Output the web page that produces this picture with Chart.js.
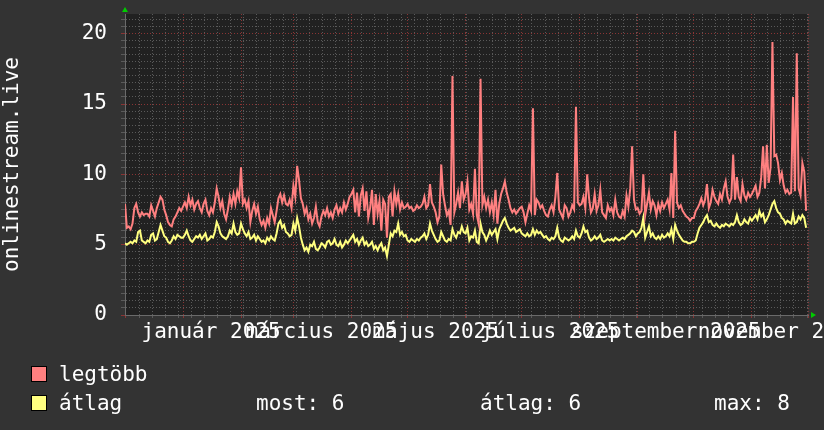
<!DOCTYPE html>
<html><head><meta charset="utf-8">
<script src="https://cdn.jsdelivr.net/npm/chart.js@4/dist/chart.umd.min.js"></script>
<style>
html,body{margin:0;padding:0;background:#333333;}
#wrap{position:relative;width:824px;height:430px;overflow:hidden;background:#333333;}
canvas{position:absolute;left:0;top:0;}
.lg{position:absolute;font-family:"DejaVu Sans Mono";font-size:21px;line-height:21px;color:#fff;white-space:pre;}
.sw{position:absolute;width:14px;height:14px;border:1px solid #000;}
</style></head><body>
<div id="wrap"><canvas id="c" width="824" height="430"></canvas>
<div class="sw" id="sw1" style="left:31px;top:366px;"></div>
<div class="lg" id="lg1" style="left:59px;top:364px;"></div>
<div class="sw" id="sw2" style="left:31px;top:395px;"></div>
<div class="lg" id="lg2" style="left:59px;top:393px;"></div>
<div class="lg" id="st1" style="left:256px;top:393px;"></div>
<div class="lg" id="st2" style="left:480px;top:393px;"></div>
<div class="lg" id="st3" style="left:714px;top:393px;"></div>
</div>
<script>
// ---- data (daily, 1 Dec 2024 .. 30 Nov 2025) ----
const seriesNames = ["legtöbb", "átlag"];
const seriesColors = ["#ff8080", "#ffff80"];
const maxVals = [
 7.9,6.2,6.3,6.1,6.5,7.6,7.9,7.3,7.0,7.3,7.1,7.2,7.2,7.0,7.8,7.4,7.0,7.6,8.0,8.4,8.2,7.5,7.1,6.6,6.4,6.3,6.8,7.0,7.3,7.6,7.4,
 7.7,8.0,7.6,8.4,7.8,8.2,7.5,7.9,8.1,7.6,7.3,7.9,8.2,7.4,7.1,7.6,7.3,8.0,9.0,8.4,7.6,8.1,7.2,6.8,7.5,8.4,7.8,8.6,7.9,8.8,8.3,
 10.5,7.9,8.2,7.6,8.1,6.6,7.4,7.9,7.2,7.7,6.8,6.4,6.7,6.2,6.9,6.5,7.6,7.1,6.6,7.4,8.3,8.6,8.0,8.5,7.9,7.8,8.2,7.6,
 9.2,8.4,10.6,9.6,8.3,7.9,7.2,7.6,6.8,7.2,6.5,6.9,7.7,6.6,6.3,7.0,7.4,7.1,7.6,7.0,7.3,6.9,7.5,7.8,7.2,7.6,7.3,8.0,7.5,7.9,8.4,
 8.6,8.9,7.3,8.7,7.0,8.5,9.0,7.4,8.8,6.9,7.6,8.9,6.4,8.6,7.2,8.1,6.0,8.2,7.9,5.5,8.4,8.6,7.0,8.8,7.9,8.6,7.5,8.0,7.6,7.7,
 7.9,7.6,7.7,7.4,7.5,7.8,7.6,7.7,7.9,8.4,7.6,7.8,9.3,8.0,7.7,7.3,6.6,7.0,10.7,8.6,7.8,7.1,7.4,6.4,17.0,7.3,7.9,8.7,7.6,9.5,8.2,
 8.6,9.5,7.5,7.9,7.2,10.4,7.1,6.5,16.8,7.8,8.4,7.6,8.2,7.3,8.0,7.1,8.9,6.5,7.9,8.6,9.0,9.5,8.7,8.2,7.6,7.3,7.5,7.2,7.4,7.6,
 7.7,7.3,6.6,7.2,7.8,7.4,14.7,7.1,8.2,8.0,7.6,7.8,7.4,7.1,7.0,7.5,7.8,7.3,8.4,10.1,7.5,7.2,6.9,7.8,7.6,7.0,7.3,7.8,7.5,14.8,8.0,
 7.8,7.9,8.4,7.6,10.0,8.3,7.3,7.6,8.6,7.4,7.8,8.9,7.3,7.1,6.9,7.8,7.4,7.6,7.1,8.2,7.3,7.0,6.9,7.4,7.0,8.5,7.7,9.0,12.0,8.2,7.5,
 7.6,7.2,7.4,10.0,7.1,7.9,8.7,7.5,8.1,7.8,7.1,7.9,7.4,8.0,7.6,7.9,8.2,7.5,10.1,6.9,13.1,8.0,7.6,7.8,7.4,7.2,7.0,6.9,6.7,6.9,
 6.9,7.4,7.6,7.9,8.3,7.8,8.2,9.3,7.6,8.0,8.9,8.4,8.1,7.9,8.6,8.2,9.0,9.5,8.4,8.0,8.3,11.4,8.2,9.8,8.4,8.1,9.3,8.5,8.2,8.7,8.4,
 8.6,8.9,9.2,8.4,8.7,9.8,12.0,9.0,12.1,9.4,10.5,19.4,11.3,11.4,10.8,9.6,10.1,9.2,8.7,8.9,8.6,8.7,15.5,8.8,18.6,9.0,8.5,10.8,10.2,7.4
];
const avgVals = [
 5.1,5.0,5.1,5.2,5.1,5.3,5.2,5.9,6.0,5.3,5.2,5.1,5.3,5.2,5.7,5.8,5.3,5.4,5.9,6.4,6.0,5.6,5.5,5.2,5.1,5.3,5.6,5.4,5.7,5.6,5.5,
 5.5,5.7,6.0,5.6,5.3,5.2,5.4,5.6,5.5,5.7,5.4,5.6,5.8,5.3,5.4,5.6,5.5,5.9,6.6,6.3,5.8,5.6,5.5,5.4,5.6,6.0,5.8,6.5,5.9,5.7,5.8,
 6.5,6.1,5.8,5.6,5.9,5.4,5.5,5.7,5.3,5.6,5.4,5.2,5.3,5.1,5.5,5.3,5.6,5.4,5.3,5.8,6.5,6.7,6.2,6.4,5.9,5.8,5.6,5.7,
 6.5,6.0,6.9,6.3,5.5,5.0,4.6,4.8,4.5,5.0,4.9,5.2,4.7,4.6,4.8,5.1,5.0,4.8,5.2,5.3,5.0,5.1,5.4,5.0,4.9,5.2,4.8,5.0,5.3,5.1,5.3,
 5.5,5.7,5.2,5.4,5.0,5.3,5.5,5.0,5.2,4.9,5.0,5.2,4.7,4.9,4.6,4.9,5.1,4.6,4.8,4.2,5.0,5.8,5.6,6.0,5.9,6.5,5.7,5.9,5.6,5.7,
 5.3,5.2,5.4,5.3,5.2,5.4,5.3,5.5,5.6,5.8,5.4,5.7,6.5,6.0,5.7,5.4,5.2,5.3,5.9,5.6,5.3,5.2,5.4,5.3,6.1,5.7,5.5,5.9,5.8,6.3,5.9,
 5.8,6.2,5.3,5.6,5.5,6.0,5.2,5.1,6.5,5.9,5.7,5.3,5.6,6.0,5.7,5.9,6.1,5.4,6.1,6.4,6.7,6.9,6.5,6.2,6.0,6.1,6.2,5.9,6.0,6.1,
 5.8,5.7,5.6,5.8,5.6,5.7,6.1,5.7,6.0,5.8,5.9,5.7,5.5,5.6,5.4,5.3,5.5,5.4,5.6,6.2,5.5,5.3,5.2,5.5,5.4,5.3,5.4,5.6,5.4,6.0,5.6,
 5.5,5.8,6.3,5.9,6.0,5.5,5.3,5.4,5.6,5.4,5.5,5.7,5.3,5.2,5.3,5.4,5.3,5.4,5.3,5.5,5.4,5.3,5.4,5.5,5.4,5.6,5.7,5.8,6.0,5.9,5.6,
 5.8,5.9,6.2,6.9,5.5,5.9,6.3,5.6,5.8,5.5,5.4,5.6,5.4,5.7,5.5,5.6,5.8,5.6,6.1,5.4,6.4,6.0,5.7,5.5,5.3,5.2,5.2,5.1,5.1,5.2,
 5.2,5.3,5.8,6.2,6.4,6.6,6.9,7.1,6.6,6.7,6.4,6.3,6.5,6.3,6.2,6.4,6.3,6.5,6.4,6.3,6.5,6.4,6.6,7.1,6.6,6.4,6.5,6.8,6.6,6.5,6.9,
 6.7,6.9,7.1,6.8,7.4,7.0,7.2,6.6,6.8,7.1,7.5,7.9,8.1,7.6,7.3,7.2,6.9,6.8,6.5,6.7,6.6,6.5,7.2,6.5,6.6,7.0,6.8,7.1,6.9,6.2
];
// ---- axes ----
const monthStarts = [0,31,62,90,121,151,182,212,243,274,304,335,365]; // day offsets of month starts
const labelDays = [46,105,166,227,289,350];
const labelTexts = ["január 2025","március 2025","május 2025","július 2025","szeptember 2025","november 2025"];
const yTicks = [0,5,10,15,20];
const yTitle = "onlinestream.live";
const statLabels = ["most", "átlag", "max"];

const weekly = [];
for (let d = 7.5; d < 365; d += 7) weekly.push(d);

const FONT = '"DejaVu Sans Mono"';
const MINOR = '#5a5a5a', MAJOR = '#8a3434';

const bgPlugin = {
  id: 'bg',
  beforeDraw(chart) {
    const {ctx, chartArea: a} = chart;
    ctx.save(); ctx.fillStyle = '#212121';
    ctx.fillRect(a.left, a.top, a.right - a.left, a.bottom - a.top);
    ctx.restore();
  },
  afterDraw(chart) {
    const {ctx, chartArea: a} = chart;
    ctx.save(); ctx.fillStyle = '#00cc00';
    ctx.beginPath(); ctx.moveTo(a.left - 3, a.top - 2); ctx.lineTo(a.left + 3, a.top - 2); ctx.lineTo(a.left, a.top - 7); ctx.closePath(); ctx.fill();
    ctx.beginPath(); ctx.moveTo(a.right + 3, a.bottom - 3); ctx.lineTo(a.right + 3, a.bottom + 3); ctx.lineTo(a.right + 8, a.bottom); ctx.closePath(); ctx.fill();
    ctx.restore();
  }
};

new Chart(document.getElementById('c'), {
  type: 'line',
  data: {
    datasets: [
      {label: seriesNames[0], data: maxVals.map((v,i)=>({x:i,y:v})), borderColor: seriesColors[0], borderWidth: 2, pointRadius: 0, tension: 0, fill: false},
      {label: seriesNames[1], data: avgVals.map((v,i)=>({x:i,y:v})), borderColor: seriesColors[1], borderWidth: 2, pointRadius: 0, tension: 0, fill: false}
    ]
  },
  options: {
    responsive: false, animation: false, devicePixelRatio: 1,
    layout: {padding: {left: 0, right: 16, top: 14, bottom: 85}},
    plugins: {legend: {display: false}, tooltip: {enabled: false}},
    scales: {
      x: {
        type: 'linear', min: 0, max: 365,
        afterBuildTicks(s) {
          const vals = [...weekly, ...monthStarts, ...labelDays].sort((a,b)=>a-b);
          s.ticks = vals.map(v => ({value: v}));
        },
        afterFit(s) { s.height = 30; s.paddingLeft = 0; s.paddingRight = 0; },
        ticks: {
          autoSkip: false, maxRotation: 0, minRotation: 0, padding: 2, color: '#ffffff',
          font: {family: FONT, size: 21},
          callback(v) { const i = labelDays.indexOf(v); return i >= 0 ? labelTexts[i] : ''; }
        },
        grid: {
          color(ctx) { const v = ctx.tick ? ctx.tick.value : null; if (labelDays.includes(v)) return 'rgba(0,0,0,0)'; return monthStarts.includes(v) ? MAJOR : MINOR; },
          lineWidth: 1, tickLength: 3, drawTicks: true
        },
        border: {display: true, color: '#6a6a6a', dash: [1,2]}
      },
      y: {
        min: 0, max: 21.4,
        afterBuildTicks(s) { const t = []; for (let v = 0; v <= 21; v += 0.5) t.push({value: v}); s.ticks = t; },
        afterFit(s) { s.width = 125; s.paddingTop = 0; s.paddingBottom = 0; },
        ticks: {
          autoSkip: false, padding: 14, color: '#ffffff', font: {family: FONT, size: 21},
          callback(v) { return yTicks.includes(v) ? String(v) : ''; }
        },
        grid: {
          color(ctx) { const v = ctx.tick ? ctx.tick.value : null; return yTicks.includes(v) ? MAJOR : MINOR; },
          lineWidth: 1, tickLength: 4, drawTicks: true
        },
        border: {display: true, color: '#6a6a6a', dash: [1,2]},
        title: {display: true, text: yTitle, color: '#ffffff', font: {family: FONT, size: 21}, padding: {top: 0, bottom: 0}}
      }
    }
  },
  plugins: [bgPlugin]
});

// legend (real text)
document.getElementById('sw1').style.background = seriesColors[0];
document.getElementById('sw2').style.background = seriesColors[1];
document.getElementById('lg1').textContent = seriesNames[0];
document.getElementById('lg2').textContent = seriesNames[1];
const last = avgVals[avgVals.length - 1];
const mean = avgVals.reduce((a,b)=>a+b,0) / avgVals.length;
const mx = Math.max(...avgVals);
document.getElementById('st1').textContent = statLabels[0] + ": " + Math.round(last);
document.getElementById('st2').textContent = statLabels[1] + ": " + Math.round(mean);
document.getElementById('st3').textContent = statLabels[2] + ": " + Math.round(mx);
</script>
</body></html>
